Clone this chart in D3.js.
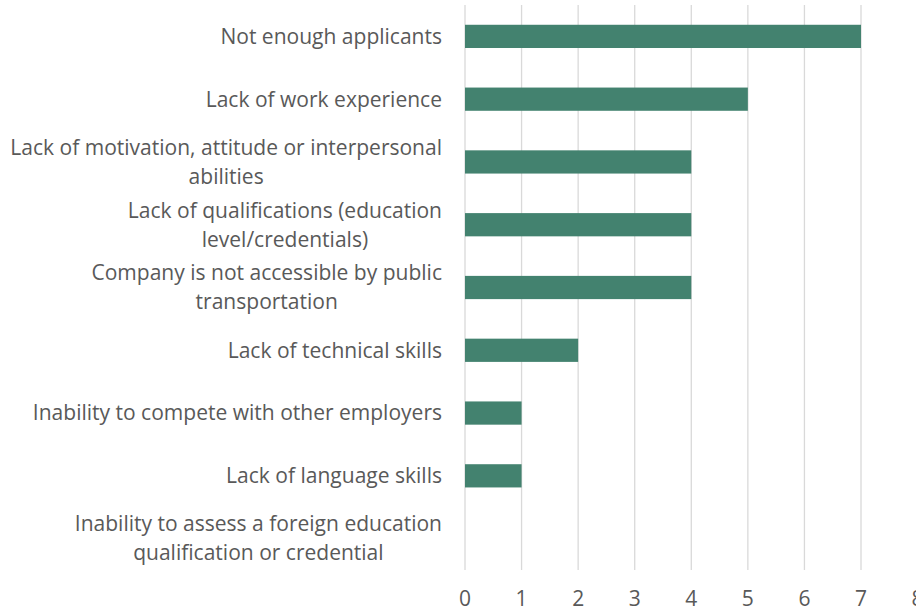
<!DOCTYPE html>
<html>
<head>
<meta charset="utf-8">
<script src="https://cdn.jsdelivr.net/npm/d3@7"></script>
<style>
  body { margin: 0; background: #fff; }
  text { font-family: "Open Sans", "Liberation Sans", sans-serif; fill: #595959; }
</style>
</head>
<body>
<div id="chart"></div>
<script>
const categories = [
  "Not enough applicants",
  "Lack of work experience",
  "Lack of motivation, attitude or interpersonal abilities",
  "Lack of qualifications (education level/credentials)",
  "Company is not accessible by public transportation",
  "Lack of technical skills",
  "Inability to compete with other employers",
  "Lack of language skills",
  "Inability to assess a foreign education qualification or credential"
];
const values = [7, 5, 4, 4, 4, 2, 1, 1, 0];
const xTicks = [0, 1, 2, 3, 4, 5, 6, 7, 8];

const W = 916, H = 613;
const plotLeft = 465, plotTop = 5, plotBottom = 570;

const svg = d3.select("#chart").append("svg")
  .attr("width", W)
  .attr("height", H);

const x = d3.scaleLinear().domain([0, 7]).range([plotLeft, 861]);
const y = d3.scaleBand().domain(categories).range([plotTop, plotBottom]).paddingInner(0.63).paddingOuter(0.315);

// fit font size to the longest label line
let fs = 18;
const probe = svg.append("text").style("font-size", fs + "px").text("Lack of motivation, attitude or interpersonal");
fs = fs * 432 / probe.node().getComputedTextLength();
probe.remove();

// gridlines
svg.append("g").selectAll("line").data(xTicks).enter().append("line")
  .attr("x1", d => x(d)).attr("x2", d => x(d))
  .attr("y1", plotTop).attr("y2", plotBottom)
  .attr("stroke", "#d9d9d9").attr("stroke-width", 1.3);

// bars
svg.append("g").selectAll("rect").data(values).enter().append("rect")
  .attr("x", x(0))
  .attr("y", (d, i) => y(categories[i]))
  .attr("width", d => x(d) - x(0))
  .attr("height", y.bandwidth())
  .attr("fill", "#43826F");

// tick labels
svg.append("g").selectAll("text").data(xTicks).enter().append("text")
  .attr("x", d => x(d))
  .attr("y", 606)
  .attr("text-anchor", "middle")
  .style("font-size", fs + "px")
  .text(d => d);

// category labels, wrapped and centered as a block right-aligned at 442
const maxW = 440, rightEdge = 442, lineH = 29;
categories.forEach((c, i) => {
  const words = c.split(" ");
  const t = svg.append("text").style("font-size", fs + "px");
  const lines = [];
  let cur = "";
  words.forEach(w => {
    const test = cur ? cur + " " + w : w;
    t.text(test);
    if (cur && t.node().getComputedTextLength() > maxW) { lines.push(cur); cur = w; }
    else cur = test;
  });
  lines.push(cur);
  const widths = lines.map(l => { t.text(l); return t.node().getComputedTextLength(); });
  t.remove();
  const blockW = d3.max(widths);
  const cx = rightEdge - blockW / 2;
  const cy = y(c) + y.bandwidth() / 2;
  const g = svg.append("text").attr("text-anchor", "middle").style("font-size", fs + "px");
  lines.forEach((l, k) => {
    g.append("tspan")
      .attr("x", cx)
      .attr("y", cy + (k - (lines.length - 1) / 2) * lineH)
      .attr("dy", "0.35em")
      .text(l);
  });
});
</script>
</body>
</html>
